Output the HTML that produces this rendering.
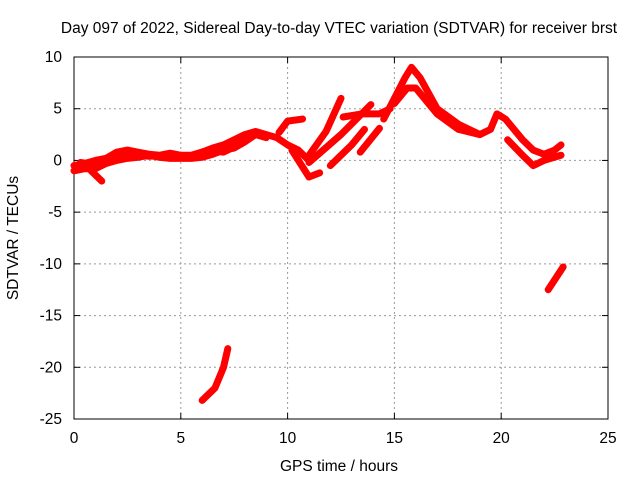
<!DOCTYPE html>
<html><head><meta charset="utf-8"><style>
body{margin:0;background:#fff}
svg text{font-family:"Liberation Sans",sans-serif;font-size:15.5px;fill:#000}
</style></head><body>
<svg width="640" height="480">
<text x="339" y="33" text-anchor="middle">Day 097 of 2022, Sidereal Day-to-day VTEC variation (SDTVAR) for receiver brst</text>
<g id="grid"></g>
<rect x="74" y="57" width="534" height="362" fill="none" stroke="#000"/>
<g id="ticks"></g>
<g id="series"></g>
<text x="339" y="471" text-anchor="middle">GPS time / hours</text>
<text transform="translate(18,238) rotate(-90)" text-anchor="middle">SDTVAR / TECUs</text>
</svg>
<script>
const xTicks=[0,5,10,15,20,25];
const yTicks=[10,5,0,-5,-10,-15,-20,-25];
const seg1=[[0,-0.5],[0.5,-0.3],[1,0],[1.5,0.2],[2,0.8],[2.5,1],[3,0.8],[3.5,0.6],[4,0.5],[4.5,0.7],[5,0.5],[5.5,0.3],[6,0.8],[6.5,1.2],[7,1.5],[7.5,2],[8,2.5],[8.5,2.8],[9,2.5],[9.5,2.2],[10,1.5],[10.5,1],[11,0]];
const seg2=[[0,-1],[0.5,-0.8],[1,-0.8],[1.5,-0.3],[2,0],[2.5,0.2],[3,0.3],[3.5,0.5],[4,0.3],[4.5,0.2],[5,0.2],[5.5,0.2],[6,0.3],[6.5,0.6],[7,1],[7.5,1.2],[8,1.8],[8.5,2.5],[9,2.2]];
const seg2b=[[0.3,-0.2],[1,-0.4],[1.8,0.5],[2.5,0.6],[3.5,0.4],[4.5,0.5],[5.5,0.5],[6.3,1],[7,0.8],[7.8,1.6]];
const seg3=[[0.8,-1],[1.3,-2]];
const seg4=[[9.6,2.7],[10,3.8],[10.7,4]];
const seg5=[[10.2,1],[11,-1.6],[11.5,-1.2]];
const seg6=[[10.9,0.2],[11.8,2.8],[12.5,6]];
const seg7=[[11,-0.2],[12.5,2.5],[13.9,5.4]];
const seg8=[[12,-0.5],[13,1.5],[13.6,3]];
const seg9=[[13.4,0.8],[14.3,3.1]];
const seg10=[[12.6,4.2],[13.5,4.5],[14.3,4.5],[14.8,5]];
const seg11=[[14.5,4],[15,6],[15.5,8],[15.8,9],[16.2,8],[17,5],[18,3.5],[19,2.5],[19.5,3],[19.8,4.5],[20.2,4],[21,2],[21.5,1],[22,0.6],[22.5,1],[22.8,1.5]];
const seg12=[[15,5.5],[15.6,7],[16,7],[17,4.5],[18,3],[19,2.5]];
const seg13=[[20.3,2],[21,0.5],[21.5,-0.5],[22,0],[22.8,0.5]];
const seg14=[[6,-23.2],[6.6,-22],[7,-20],[7.2,-18.2]];
const seg15=[[22.2,-12.5],[22.9,-10.3]];
const segments=[seg1,seg2,seg2b,seg3,seg4,seg5,seg6,seg7,seg8,seg9,seg10,seg11,seg12,seg13,seg14,seg15];
const NS="http://www.w3.org/2000/svg";
const X=h=>74+h*534/25, Y=v=>57+(10-v)*362/35;
const grid=document.getElementById('grid'),ticks=document.getElementById('ticks'),ser=document.getElementById('series');
function mk(tag,attrs,parent){const e=document.createElementNS(NS,tag);for(const k in attrs)e.setAttribute(k,attrs[k]);parent.appendChild(e);return e;}
xTicks.forEach(t=>{const x=X(t);
 if(t>0&&t<25){const g=mk('line',{x1:x,x2:x,y1:57,y2:419,stroke:'#999','stroke-dasharray':'2,3'},grid);
 
 }
 mk('line',{x1:x,x2:x,y1:419,y2:413,stroke:'#000'},ticks);mk('line',{x1:x,x2:x,y1:57,y2:63,stroke:'#000'},ticks);
 const l=mk('text',{x:x,y:443,'text-anchor':'middle'},ticks);l.textContent=t;
 
 });
yTicks.forEach(t=>{const y=Y(t);
 if(t<10&&t>-25){const g=mk('line',{x1:74,x2:608,y1:y,y2:y,stroke:'#999','stroke-dasharray':'2,3'},grid);
 
 }
 mk('line',{x1:74,x2:80,y1:y,y2:y,stroke:'#000'},ticks);mk('line',{x1:602,x2:608,y1:y,y2:y,stroke:'#000'},ticks);
 const l=mk('text',{x:62,y:y+5,'text-anchor':'end'},ticks);l.textContent=t;
 
 });
segments.forEach(s=>{const p=mk('polyline',{points:s.map(d=>X(d[0])+','+Y(d[1])).join(' '),fill:'none',stroke:'#f00','stroke-width':7,'stroke-linejoin':'round','stroke-linecap':'round'},ser);
 
 });
</script>
</body></html>
